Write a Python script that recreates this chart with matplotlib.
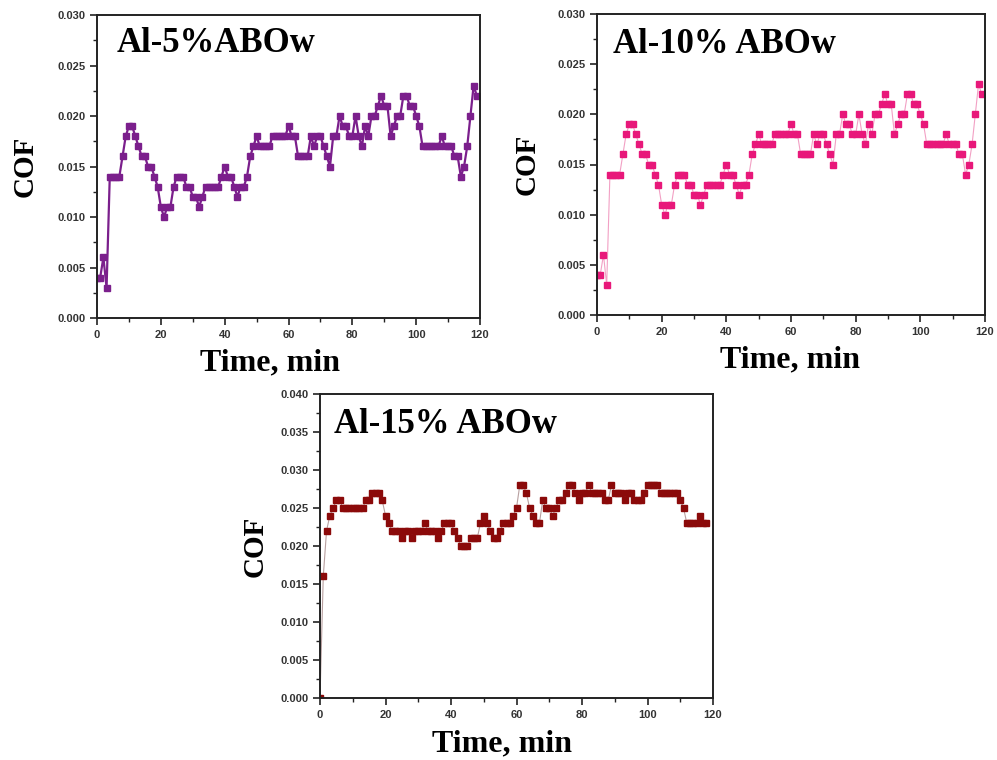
import numpy as np
import matplotlib
matplotlib.use('Agg')
import matplotlib.pyplot as plt
from matplotlib.ticker import MultipleLocator, FormatStrFormatter

# COF readings in units of 0.001, one per minute
cof_5 = [4, 4, 6, 3, 14, 14, 14, 14, 16, 18, 19, 19, 18, 17, 16, 16, 15, 15, 14, 13,
         11, 10, 11, 11, 13, 14, 14, 14, 13, 13, 12, 12, 11, 12, 13, 13, 13, 13, 13, 14,
         15, 14, 14, 13, 12, 13, 13, 14, 16, 17, 18, 17, 17, 17, 17, 18, 18, 18, 18, 18,
         19, 18, 18, 16, 16, 16, 16, 18, 17, 18, 18, 17, 16, 15, 18, 18, 20, 19, 19, 18,
         18, 20, 18, 17, 19, 18, 20, 20, 21, 22, 21, 21, 18, 19, 20, 20, 22, 22, 21, 21,
         20, 19, 17, 17, 17, 17, 17, 17, 18, 17, 17, 17, 16, 16, 14, 15, 17, 20, 23, 22]
cof_10 = [4, 4, 6, 3, 14, 14, 14, 14, 16, 18, 19, 19, 18, 17, 16, 16, 15, 15, 14, 13,
          11, 10, 11, 11, 13, 14, 14, 14, 13, 13, 12, 12, 11, 12, 13, 13, 13, 13, 13, 14,
          15, 14, 14, 13, 12, 13, 13, 14, 16, 17, 18, 17, 17, 17, 17, 18, 18, 18, 18, 18,
          19, 18, 18, 16, 16, 16, 16, 18, 17, 18, 18, 17, 16, 15, 18, 18, 20, 19, 19, 18,
          18, 20, 18, 17, 19, 18, 20, 20, 21, 22, 21, 21, 18, 19, 20, 20, 22, 22, 21, 21,
          20, 19, 17, 17, 17, 17, 17, 17, 18, 17, 17, 17, 16, 16, 14, 15, 17, 20, 23, 22]
cof_15 = [0, 16, 22, 24, 25, 26, 26, 25, 25, 25, 25, 25, 25, 25, 26, 26, 27, 27, 27, 26,
          24, 23, 22, 22, 22, 21, 22, 22, 21, 22, 22, 22, 23, 22, 22, 22, 21, 22, 23, 23,
          23, 22, 21, 20, 20, 20, 21, 21, 21, 23, 24, 23, 22, 21, 21, 22, 23, 23, 23, 24,
          25, 28, 28, 27, 25, 24, 23, 23, 26, 25, 25, 24, 25, 26, 26, 27, 28, 28, 27, 26,
          27, 27, 28, 27, 27, 27, 27, 26, 26, 28, 27, 27, 27, 26, 27, 27, 26, 26, 26, 27,
          28, 28, 28, 28, 27, 27, 27, 27, 27, 27, 26, 25, 23, 23, 23, 23, 24, 23, 23]

labels = ['Al-5%ABOw', 'Al-10% ABOw', 'Al-15% ABOw']

serif = ['Liberation Serif', 'DejaVu Serif']
sans = ['Liberation Sans', 'DejaVu Sans']

fig = plt.figure(figsize=(9.97, 7.6), dpi=100)
W, H = 997.0, 760.0

def make_ax(x0, y0, x1, y1):
    return fig.add_axes([x0 / W, 1 - y1 / H, (x1 - x0) / W, (y1 - y0) / H])

def style(ax, ymax, ylab_x, xlab_x, xlab_y):
    ax.set_xlim(0, 120)
    ax.set_ylim(0, ymax)
    ax.xaxis.set_major_locator(MultipleLocator(20))
    ax.xaxis.set_minor_locator(MultipleLocator(10))
    ax.yaxis.set_major_locator(MultipleLocator(0.005))
    ax.yaxis.set_minor_locator(MultipleLocator(0.0025))
    ax.yaxis.set_major_formatter(FormatStrFormatter('%.3f'))
    ax.tick_params(which='major', direction='out', length=5, width=1.2, color='#222222')
    ax.tick_params(which='minor', direction='out', length=3, width=1.0, color='#222222')
    for sp in ax.spines.values():
        sp.set_linewidth(1.4)
        sp.set_color('#222222')
    for lab in ax.get_xticklabels() + ax.get_yticklabels():
        lab.set_fontfamily(sans)
        lab.set_fontweight('bold')
        lab.set_fontsize(8)
        lab.set_color('#333333')
    ax.set_ylabel('COF', family=serif, fontweight='bold', fontsize=21, va='center')
    ax.set_xlabel('Time, min', family=serif, fontweight='bold', fontsize=23, va='center')
    ax.yaxis.set_label_coords(ylab_x, 0.5)
    ax.xaxis.set_label_coords(xlab_x, xlab_y)

# panel 1
ax1 = make_ax(97, 15, 480, 318)
x = np.arange(len(cof_5))
ax1.plot(x, np.array(cof_5) / 1000, color='#7b1f8c', lw=1.6, marker='s', ms=5,
         mec='#7b1f8c', mfc='#7b1f8c')
style(ax1, 0.030, -0.188, 0.452, -0.149)
ax1.text(0.05, 0.905, labels[0], transform=ax1.transAxes, family=serif,
         fontweight='bold', fontsize=25, va='center', ha='left')

# panel 2
ax2 = make_ax(597, 14, 985, 315)
x = np.arange(len(cof_10))
ax2.plot(x, np.array(cof_10) / 1000, color='#f2a0c4', lw=0.8, marker='s', ms=5,
         mec='#e8187a', mfc='#e8187a')
style(ax2, 0.030, -0.18, 0.497, -0.15)
ax2.text(0.04, 0.90, labels[1], transform=ax2.transAxes, family=serif,
         fontweight='bold', fontsize=25, va='center', ha='left')

# panel 3
ax3 = make_ax(320, 394, 713, 698)
x = np.arange(len(cof_15))
ax3.plot(x, np.array(cof_15) / 1000, color='#b8a0a0', lw=0.8, marker='s', ms=5,
         mec='#8b0a0a', mfc='#8b0a0a')
style(ax3, 0.040, -0.165, 0.463, -0.151)
ax3.text(0.035, 0.90, labels[2], transform=ax3.transAxes, family=serif,
         fontweight='bold', fontsize=25, va='center', ha='left')

fig.savefig('out.png', dpi=100)
